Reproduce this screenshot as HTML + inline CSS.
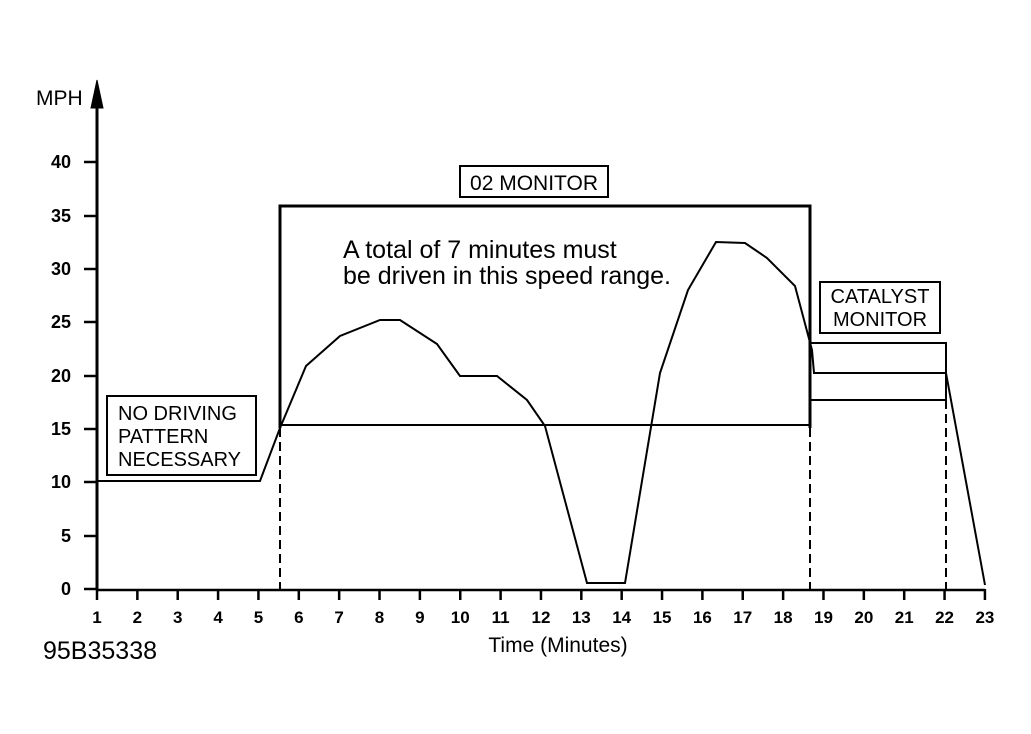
<!DOCTYPE html>
<html><head><style>body{margin:0;background:#fff}svg{display:block}text{font-family:"Liberation Sans",Arial,sans-serif;fill:#000}</style></head>
<body>
<svg width="1031" height="734" viewBox="0 0 1031 734">
<g stroke="#000" fill="none">
<line x1="97" y1="100" x2="97" y2="590" stroke-width="3"/>
<polygon points="97,80 91,108 103,108" fill="#000"/>
<line x1="97" y1="590" x2="985" y2="590" stroke-width="2.5"/>
<g stroke-width="2.5">
<line x1="84" y1="162" x2="97" y2="162"/><line x1="84" y1="216" x2="97" y2="216"/>
<line x1="84" y1="269" x2="97" y2="269"/><line x1="84" y1="322" x2="97" y2="322"/>
<line x1="84" y1="376" x2="97" y2="376"/><line x1="84" y1="429" x2="97" y2="429"/>
<line x1="84" y1="482" x2="97" y2="482"/><line x1="84" y1="536" x2="97" y2="536"/>
<line x1="84" y1="589" x2="97" y2="589"/>
</g>
<g stroke-width="2.5" id="xt"></g>
<polyline stroke-width="2" points="97,481 260,481 280,428 306,366 340,336 380,320 400,320 437,344 460,376 497,376 527,400 545,426 587,583 625,583 660,373 688,290 716,242 745,243 767,258 795,286 812,350 814,373 946,373 985,585"/>
<polyline stroke-width="3" points="280,428 280,206 810,206 810,428"/>
<line x1="280" y1="425" x2="810" y2="425" stroke-width="2"/>
<g stroke-width="2" stroke-dasharray="9,5">
<line x1="280" y1="428" x2="280" y2="589"/><line x1="810" y1="428" x2="810" y2="589"/><line x1="946" y1="400" x2="946" y2="589"/>
</g>
<polyline stroke-width="2" points="810,343 946,343 946,400 810,400"/>
<rect x="460" y="166" width="148" height="31" stroke-width="2"/>
<rect x="820" y="282" width="120" height="51" stroke-width="2"/>
<rect x="107" y="396" width="149" height="79" stroke-width="2"/>
</g>
<g font-size="18" font-weight="bold" text-anchor="end">
<text x="71" y="168">40</text><text x="71" y="222">35</text><text x="71" y="275">30</text><text x="71" y="328">25</text><text x="71" y="382">20</text><text x="71" y="435">15</text><text x="71" y="488">10</text><text x="71" y="542">5</text><text x="71" y="595">0</text>
</g>
<text x="36" y="105" font-size="21">MPH</text>
<g font-size="17" font-weight="bold" text-anchor="middle" id="xl"></g>
<text x="534" y="190" font-size="21" text-anchor="middle">02 MONITOR</text>
<text x="880" y="303" font-size="20" text-anchor="middle">CATALYST</text>
<text x="880" y="326" font-size="20" text-anchor="middle">MONITOR</text>
<text x="118" y="420" font-size="20">NO DRIVING</text>
<text x="118" y="443" font-size="20">PATTERN</text>
<text x="118" y="466" font-size="20">NECESSARY</text>
<text x="343" y="258" font-size="25">A total of 7 minutes must</text>
<text x="343" y="284" font-size="25">be driven in this speed range.</text>
<text x="558" y="652" font-size="21" text-anchor="middle">Time (Minutes)</text>
<text x="43" y="659" font-size="25">95B35338</text>
</svg>
<script>
var ns="http://www.w3.org/2000/svg",xt=document.getElementById("xt"),xl=document.getElementById("xl");
for(var i=1;i<=23;i++){var x=97+(i-1)*40.36;
var l=document.createElementNS(ns,"line");l.setAttribute("x1",x);l.setAttribute("x2",x);l.setAttribute("y1",589);l.setAttribute("y2",600);xt.appendChild(l);
var t=document.createElementNS(ns,"text");t.setAttribute("x",x);t.setAttribute("y",623);t.textContent=i;xl.appendChild(t);}
</script>
</body></html>
